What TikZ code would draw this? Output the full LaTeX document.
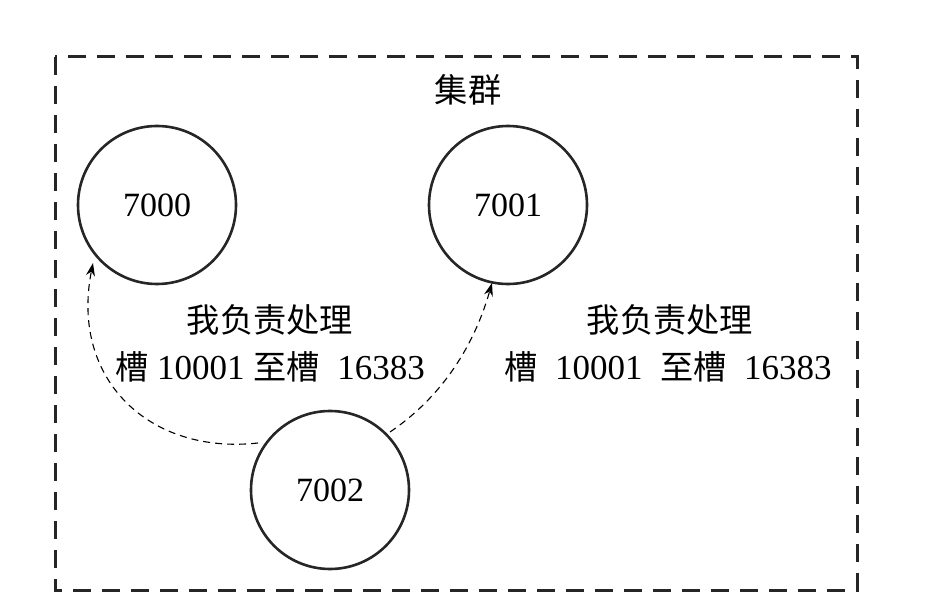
\documentclass[tikz,border=0pt]{standalone}
\usepackage{fontspec}
\setmainfont{Liberation Serif}
\newfontfamily\cjk{Noto Sans CJK SC}[Scale=0.95]
\usetikzlibrary{arrows.meta}
\begin{document}
\begin{tikzpicture}[x=1pt,y=-1pt,
  srv/.style={circle,draw=black!85,line width=2.6pt,minimum size=158pt,inner sep=0pt,font=\fontsize{34}{40}\selectfont},
  lbl/.style={font=\fontsize{35}{42}\selectfont,align=center,inner sep=0pt},
  link/.style={line width=1.1pt,dash pattern=on 7pt off 5pt,-{Stealth[length=13pt,width=9pt]}}]
\useasboundingbox (0,0) rectangle (932,604);
\draw[line width=3pt,dash pattern=on 18pt off 11pt,black!85] (55,57) rectangle (857,590);
\node[lbl] (title) at (468,90) {\cjk 集群};
\node[srv] (a) at (157,205) {7000};
\node[srv] (b) at (508,205) {7001};
\node[srv] (c) at (330,490) {7002};
\node[lbl] (t1) at (270,320) {\cjk 我负责处理};
\node[lbl] (t2) at (270,367) {{\cjk 槽} 10001 {\cjk 至槽}\ \ 16383};
\node[lbl] (t3) at (670,320) {\cjk 我负责处理};
\node[lbl] (t4) at (668,367) {{\cjk 槽}\ \ 10001\ \ {\cjk 至槽}\ \ 16383};
\coordinate (cs1) at (258,443);
\coordinate (cs2) at (390,432);
\coordinate (ae) at (93,263);
\coordinate (be) at (492,283);
\draw[link] (cs1) .. controls (150,455) and (70,380) .. (ae);
\draw[link] (cs2) .. controls (430,405) and (470,360) .. (be);
\end{tikzpicture}
\end{document}
